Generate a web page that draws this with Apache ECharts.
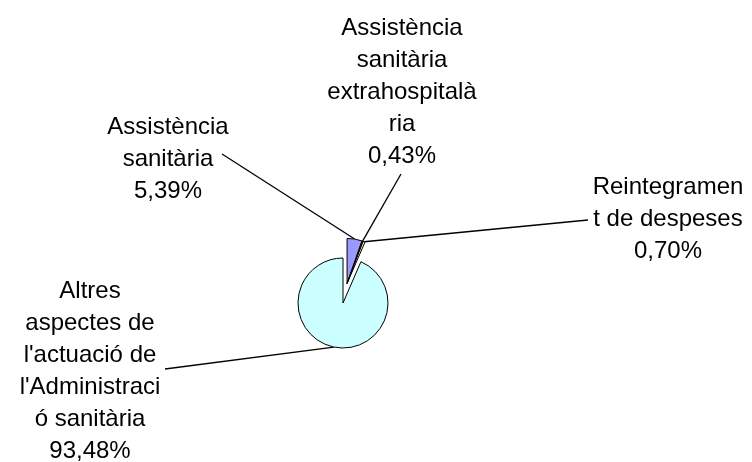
<!DOCTYPE html>
<html>
<head>
<meta charset="utf-8">
<script src="https://cdn.jsdelivr.net/npm/echarts@6/dist/echarts.min.js"></script>
<style>
  html, body { margin: 0; padding: 0; background: #fff; }
  #chart { width: 752px; height: 462px; }
</style>
</head>
<body>
<div id="chart"></div>
<script>
// Category names (with the line breaks shown in the labels)
const categories = [
  'Assistència\nsanitària',
  'Assistència\nsanitària\nextrahospitalà\nria',
  'Reintegramen\nt de despeses',
  'Altres\naspectes de\nl\'actuació de\nl\'Administraci\nó sanitària'
];
// Share of each category, in percent
const shares = [5.39, 0.43, 0.70, 93.48];
// Slices pulled out of the pie
const exploded = [true, true, true, false];
// Slice colours
const colors = ['#9999FF', '#993366', '#FFFFCC', '#CCFFFF'];

// Label block centres and the point where each leader line meets its label
const labelPlacement = [
  { x: 168, y: 159, lineEnd: [222, 154] },
  { x: 402, y: 92,  lineEnd: [401, 174] },
  { x: 668, y: 219, lineEnd: [588, 220] },
  { x: 90,  y: 371, lineEnd: [165, 369] }
];

const pieCenter = [343, 303];
const pieRadius = 45;
const explodeDistance = 20;

// The pulled-out slices move together along the middle angle of their group
const total = shares.reduce((a, b) => a + b, 0);
const explodedShare = shares.reduce((a, v, i) => a + (exploded[i] ? v : 0), 0);
const midAngle = (explodedShare / 2 / total) * 2 * Math.PI; // clockwise from 12 o'clock
const explodedCenter = [
  pieCenter[0] + explodeDistance * Math.sin(midAngle),
  pieCenter[1] - explodeDistance * Math.cos(midAngle)
];

const fmtPct = v => v.toFixed(2).replace('.', ',') + '%';

function pieSeries(center, visibleIf) {
  return {
    type: 'pie',
    center: center,
    radius: pieRadius,
    startAngle: 90,
    clockwise: true,
    avoidLabelOverlap: false,
    silent: true,
    data: categories.map((name, i) => {
      const visible = visibleIf(i);
      return {
        name: name,
        value: shares[i],
        itemStyle: visible
          ? { color: colors[i], borderColor: '#000', borderWidth: 1 }
          : { color: 'rgba(0,0,0,0)', borderWidth: 0 },
        label: { show: visible },
        labelLine: { show: visible }
      };
    }),
    label: {
      show: true,
      position: 'outside',
      formatter: p => p.name + '\n' + fmtPct(p.value),
      color: '#000',
      fontFamily: '"Liberation Sans", Arial, sans-serif',
      fontSize: 24,
      lineHeight: 32,
      align: 'center'
    },
    labelLine: {
      show: true,
      length: 10,
      length2: 10,
      smooth: false,
      lineStyle: { color: '#000', width: 1.3 }
    },
    emphasis: { disabled: true },
    labelLayout: function (params) {
      const pl = labelPlacement[params.dataIndex];
      const pts = params.labelLinePoints;
      const start = pts ? pts[0] : pl.lineEnd;
      return {
        x: pl.x,
        y: pl.y,
        align: 'center',
        verticalAlign: 'middle',
        labelLinePoints: [start, pl.lineEnd, pl.lineEnd]
      };
    }
  };
}

const chart = echarts.init(document.getElementById('chart'), null, { renderer: 'canvas' });

chart.setOption({
  backgroundColor: '#ffffff',
  animation: false,
  series: [
    pieSeries(pieCenter, i => !exploded[i]),
    pieSeries(explodedCenter, i => exploded[i])
  ]
});
</script>
</body>
</html>
